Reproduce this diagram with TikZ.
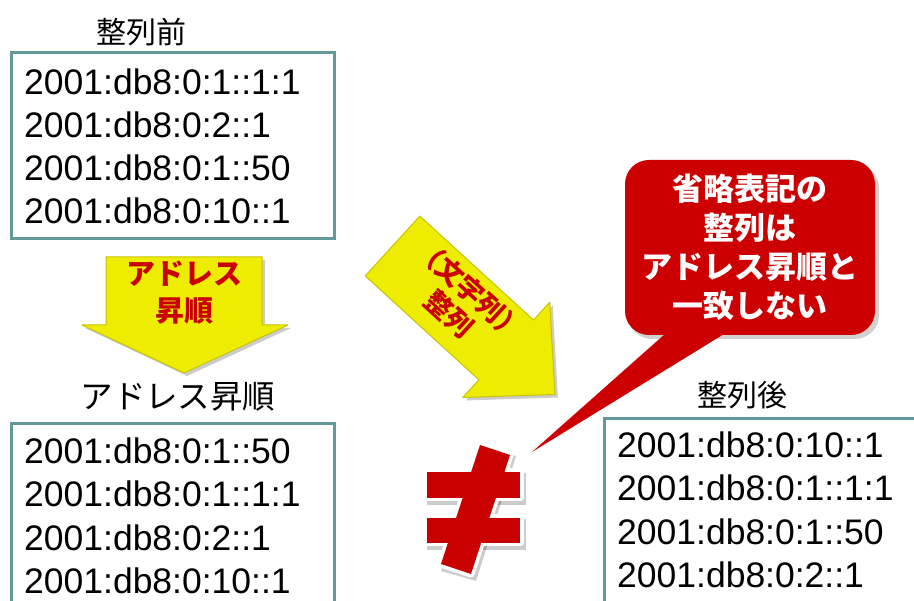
\documentclass[tikz,border=0pt]{standalone}
\usepackage{fontspec}
\setmainfont{Liberation Sans}
\newfontfamily\jp{Noto Sans CJK JP}
\definecolor{teal}{RGB}{99,153,153}
\definecolor{ayellow}{RGB}{238,236,0}
\definecolor{ayellowdark}{RGB}{200,196,0}
\definecolor{cred}{RGB}{204,0,0}
\definecolor{tred}{RGB}{200,0,0}
\begin{document}
\begin{tikzpicture}[x=1pt,y=-1pt,
  box/.style={draw=teal, line width=3pt, fill=white, inner sep=0pt, anchor=north west},
  addr/.style={anchor=base west, inner sep=0pt, font=\fontsize{35.5}{43}\selectfont},
  ttl/.style={inner sep=0pt, font=\jp\fontsize{30}{36}\selectfont},
  arrowfill/.style={fill=ayellow, draw=ayellowdark, line width=1pt, line join=round},
  shadowfill/.style={fill=black, opacity=0.2},
  atext/.style={inner sep=0pt, align=center, text=tred, font=\jp\bfseries\fontsize{29}{37}\selectfont},
  neq/.style={fill=tred},
  neqedge/.style={draw=white, line width=7pt, line join=round, fill=white}
]
\clip (0,0) rectangle (914,601);
\fill[white] (0,0) rectangle (914,601);

% boxes
\node[box, minimum width=323pt, minimum height=186pt] (b1) at (10,51) {};
\node[box, minimum width=323pt, minimum height=250pt] (b2) at (10,422) {};
\node[box, minimum width=330pt, minimum height=250pt] (b3) at (603,417) {};

% titles
\node[ttl] (t1) at (141,32) {整列前};
\node[ttl, font=\jp\fontsize{32.5}{36}\selectfont] (t2) at (178,397) {アドレス昇順};
\node[ttl] (t3) at (742,395) {整列後};

% box 1 lines
\node[addr] (a11) at (24,95) {2001:db8:0:1::1:1};
\node[addr] (a12) at (24,138) {2001:db8:0:2::1};
\node[addr] (a13) at (24,181) {2001:db8:0:1::50};
\node[addr] (a14) at (24,224) {2001:db8:0:10::1};
% box 2 lines
\node[addr] (a21) at (24,464) {2001:db8:0:1::50};
\node[addr] (a22) at (24,507) {2001:db8:0:1::1:1};
\node[addr] (a23) at (24,551) {2001:db8:0:2::1};
\node[addr] (a24) at (24,594) {2001:db8:0:10::1};
% box 3 lines
\node[addr] (a31) at (617,458) {2001:db8:0:10::1};
\node[addr] (a32) at (617,501) {2001:db8:0:1::1:1};
\node[addr] (a33) at (617,545) {2001:db8:0:1::50};
\node[addr] (a34) at (617,588) {2001:db8:0:2::1};

% down arrow
\begin{scope}[shift={(3,3)}]
\fill[shadowfill] (106,257) -- (262,257) -- (262,325) -- (288,325) -- (184,373) -- (82,325) -- (106,325) -- cycle;
\end{scope}
\path[arrowfill] (106,257) -- (262,257) -- (262,325) -- (288,325) -- (184,373) -- (82,325) -- (106,325) -- cycle;
\node[atext] (l1) at (184,293) {アドレス\\昇順};

% diagonal arrow
\begin{scope}[shift={(3,3)}]
\fill[shadowfill] (419.8,216.1) -- (533.5,320) -- (549.7,302.3) -- (554.9,394.5) -- (462.7,397.5) -- (478.9,379.8) -- (365.2,275.9) -- cycle;
\end{scope}
\path[arrowfill] (419.8,216.1) -- (533.5,320) -- (549.7,302.3) -- (554.9,394.5) -- (462.7,397.5) -- (478.9,379.8) -- (365.2,275.9) -- cycle;
\node[atext, font=\jp\bfseries\fontsize{27}{32}\selectfont, rotate=-42.4] (l2) at (460,302) {（文字列）\\整列};

% not equal sign
\begin{scope}[shift={(3,4)}]
\fill[shadowfill] (424,469) rectangle (523,501);
\fill[shadowfill] (424,515) rectangle (523,546);
\fill[shadowfill] (478,441) -- (513,452) -- (473,577) -- (438,567) -- cycle;
\end{scope}
\path[neqedge] (427,472) rectangle (520,498);
\path[neqedge] (427,518) rectangle (520,543);
\path[neqedge] (480,445) -- (510,455) -- (471,574) -- (441,564) -- cycle;
\fill[neq] (427,472) rectangle (520,498);
\fill[neq] (427,518) rectangle (520,543);
\fill[neq] (480,445) -- (510,455) -- (471,574) -- (441,564) -- cycle;

% callout
\fill[black, opacity=0.18, rounded corners=24pt] (628,164) rectangle (879,339);
\node[fill=cred, rounded corners=24pt, minimum width=250pt, minimum height=175pt, inner sep=0pt,
      align=center, text=white, font=\jp\bfseries\fontsize{31}{39}\selectfont] (callout) at (750,247.5)
  {省略表記の\\整列は\\アドレス昇順と\\一致しない};
\coordinate (ptip) at (532,452);
\fill[cred] ([xshift=-83pt,yshift=3pt]callout.south) -- (ptip) -- ([xshift=-23pt,yshift=3pt]callout.south) -- cycle;
\end{tikzpicture}
\end{document}
